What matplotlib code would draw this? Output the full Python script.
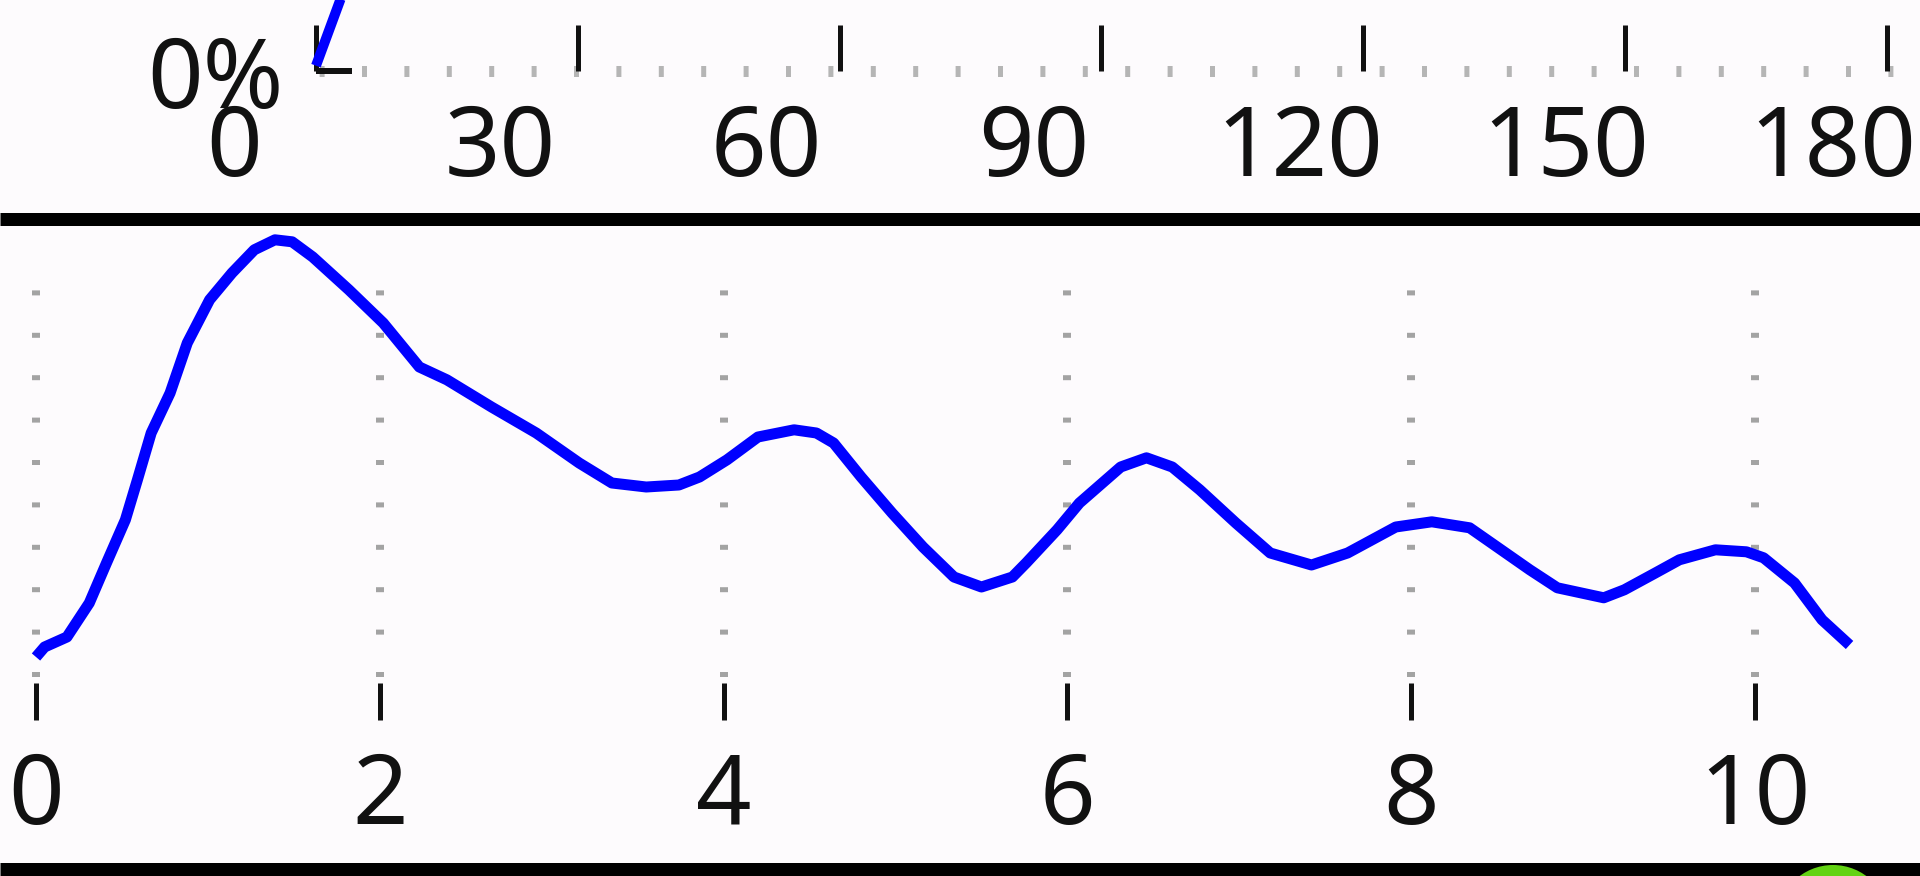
import matplotlib
matplotlib.use('Agg')
import matplotlib.pyplot as plt
from matplotlib.lines import Line2D
from matplotlib.patches import Circle
from matplotlib.transforms import IdentityTransform

plt.rcParams['font.family'] = ['Noto Sans', 'DejaVu Sans']
plt.rcParams['lines.scale_dashes'] = False

# ---------------- data ----------------
top_ticks = [0, 30, 60, 90, 120, 150, 180]
top_tick_labels = ['0', '30', '60', '90', '120', '150', '180']
top_y_ticks = [0]
top_y_labels = ['0%']
top_x = [0, 3]
top_y = [0.15, 2.15]

bottom_ticks = [0, 2, 4, 6, 8, 10]
bottom_tick_labels = ['0', '2', '4', '6', '8', '10']
bottom_x = [0.0, 0.05, 0.18, 0.31, 0.41, 0.52, 0.59, 0.67, 0.78, 0.88, 1.01, 1.14,
            1.27, 1.39, 1.49, 1.61, 1.82, 2.02, 2.23, 2.39, 2.65, 2.91, 3.16, 3.35,
            3.55, 3.74, 3.86, 4.02, 4.20, 4.41, 4.54, 4.64, 4.80, 4.98, 5.16, 5.34,
            5.50, 5.68, 5.76, 5.94, 6.07, 6.31, 6.46, 6.61, 6.77, 6.98, 7.18, 7.42,
            7.63, 7.91, 8.12, 8.34, 8.50, 8.69, 8.85, 9.12, 9.24, 9.42, 9.56, 9.77,
            9.95, 10.05, 10.23, 10.39, 10.55]
bottom_y = [0.65, 0.90, 1.15, 2.00, 3.00, 4.08, 5.08, 6.25, 7.25, 8.50, 9.58, 10.25,
            10.83, 11.08, 11.03, 10.65, 9.83, 9.00, 7.90, 7.58, 6.90, 6.25, 5.50, 5.00,
            4.90, 4.95, 5.15, 5.58, 6.15, 6.33, 6.25, 6.00, 5.15, 4.25, 3.40, 2.65,
            2.40, 2.65, 3.00, 3.83, 4.50, 5.40, 5.63, 5.40, 4.83, 4.00, 3.25, 2.95,
            3.25, 3.90, 4.03, 3.88, 3.40, 2.83, 2.38, 2.13, 2.33, 2.75, 3.08, 3.33,
            3.28, 3.13, 2.50, 1.58, 0.95]

# ---------------- styling ----------------
W, H, DPI = 1920, 876, 100
PT = 72.0 / DPI          # points per pixel
BG = '#fdfbfd'
BLUE = '#0000ff'
TXT = '#111111'
FS = 70

fig = plt.figure(figsize=(W / DPI, H / DPI), dpi=DPI, facecolor=BG)

# ---- top panel (tick marks, y label, line) ----
top_px_per_unit = 8.727
ax_t = fig.add_axes([316 / W, 1 - 71 / H, (W - 316) / W, 71 / H])
ax_t.patch.set_visible(False)
ax_t.set_xlim(0, (W - 316) / top_px_per_unit)
ax_t.set_ylim(0, 2)
for s in ax_t.spines.values():
    s.set_visible(False)
ax_t.axhline(0, color='#b5b5b5', lw=11 * PT,
             linestyle=(39.3 * PT, (5 * PT, 37.4 * PT)), clip_on=False, zorder=1)
ax_t.plot(top_x, top_y, color=BLUE, lw=10 * PT, clip_on=False, zorder=3,
          solid_capstyle='butt')
ax_t.set_xticks(top_ticks)
ax_t.tick_params(axis='x', direction='in', length=46 * PT, width=5 * PT,
                 color=TXT, labelbottom=False)
ax_t.set_yticks(top_y_ticks, top_y_labels)
ax_t.tick_params(axis='y', direction='in', length=36 * PT, width=6 * PT,
                 color=TXT, pad=32 * PT, labelsize=FS, labelcolor=TXT)

# ---- top panel tick labels (own scale) ----
ax_tl = fig.add_axes([0, 1 - 71 / H, 1, 71 / H])
ax_tl.patch.set_visible(False)
ax_tl.set_xlim(-234 / 8.88, (W - 234) / 8.88)
for s in ax_tl.spines.values():
    s.set_visible(False)
ax_tl.set_yticks([])
ax_tl.set_xticks(top_ticks, top_tick_labels)
ax_tl.tick_params(axis='x', length=0, pad=31 * PT, labelsize=FS, labelcolor=TXT)

# ---- bottom panel ----
bx_px_per_unit = 171.9
by_px_per_unit = 40.0
ax_b = fig.add_axes([0, 1 - 683 / H, 1, (683 - 287) / H])
ax_b.patch.set_visible(False)
ax_b.set_xlim(-36 / bx_px_per_unit, (W - 36) / bx_px_per_unit)
ytop = (683 - 287) / by_px_per_unit
ax_b.set_ylim(0, ytop)
for s in ax_b.spines.values():
    s.set_visible(False)
ax_b.vlines(bottom_ticks, 0, ytop, colors='#a3a3a3', linewidth=8 * PT,
            linestyles=[(36.4 * PT, (5 * PT, 37.4 * PT))], zorder=1)
ax_b.plot(bottom_x, bottom_y, color=BLUE, lw=11 * PT, clip_on=False, zorder=3,
          solid_joinstyle='round', solid_capstyle='butt')
ax_b.set_yticks([])
ax_b.set_xticks(bottom_ticks, bottom_tick_labels)
ax_b.tick_params(axis='x', direction='out', length=37 * PT, width=5 * PT,
                 color=TXT, pad=30 * PT, labelsize=FS, labelcolor=TXT)

# ---- separators and corner marker ----
fig.add_artist(Line2D([0, 1], [1 - 219 / H, 1 - 219 / H], transform=fig.transFigure,
                      color='black', lw=13 * PT, solid_capstyle='butt'))
fig.add_artist(Line2D([0, 1], [1 - 870 / H, 1 - 870 / H], transform=fig.transFigure,
                      color='black', lw=15 * PT, solid_capstyle='butt'))
fig.add_artist(Circle((1833, H - 921), 56, transform=IdentityTransform(),
                      facecolor='#63d313', edgecolor='none', zorder=5))

fig.savefig('out.png', dpi=DPI, facecolor=BG)
